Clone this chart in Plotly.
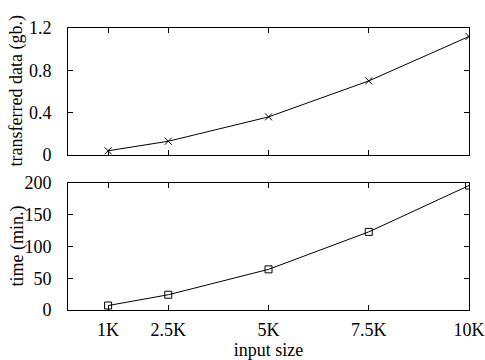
import plotly.graph_objects as go
from plotly.subplots import make_subplots

input_size = [1000, 2500, 5000, 7500, 10000]
tick_labels = ["1K", "2.5K", "5K", "7.5K", "10K"]
transferred_gb = [0.04, 0.13, 0.36, 0.70, 1.12]
time_min = [7, 24, 64, 123, 196]

fig = make_subplots(rows=2, cols=1, shared_xaxes=False, vertical_spacing=0.0992)

fig.add_trace(go.Scatter(x=input_size, y=transferred_gb, mode="lines+markers",
                         line=dict(color="black", width=1),
                         marker=dict(symbol="x-thin", size=7, color="black",
                                     line=dict(color="black", width=1)),
                         showlegend=False), row=1, col=1)
fig.add_trace(go.Scatter(x=input_size, y=time_min, mode="lines+markers",
                         line=dict(color="black", width=1),
                         marker=dict(symbol="square-open", size=7, color="black",
                                     line=dict(width=1)),
                         showlegend=False), row=2, col=1)

FAMILY = "Liberation Serif, Times New Roman, Times, serif"
font = dict(family=FAMILY, size=18, color="black")
title_font = dict(family=FAMILY, size=18, color="black")
axis_common = dict(showgrid=False, zeroline=False, showline=True, linecolor="black",
                   linewidth=1, mirror="allticks", ticks="inside", ticklen=5,
                   tickcolor="black", tickfont=font, automargin=False)

fig.update_xaxes(range=[0, 10000], tickvals=input_size, ticktext=tick_labels,
                 ticklabelstandoff=3, **axis_common)
fig.update_xaxes(showticklabels=False, row=1, col=1)
fig.update_xaxes(title=dict(text="input size", font=title_font, standoff=3), row=2, col=1)

fig.update_yaxes(ticklabelstandoff=12, **axis_common)
fig.update_yaxes(range=[0, 1.2], tickvals=[0, 0.4, 0.8, 1.2], ticktext=["0", "0.4", "0.8", "1.2"],
                 row=1, col=1)
fig.update_yaxes(range=[0, 200], tickvals=[0, 50, 100, 150, 200],
                 row=2, col=1)

plot_w = 485 - 68 - 16
title_x = (17 - 68) / plot_w
fig.add_annotation(text="transferred data (gb.)", xref="paper", yref="paper",
                   x=title_x, y=(0.5496 + 1) / 2, textangle=-90, showarrow=False,
                   xanchor="center", yanchor="middle", font=title_font)
fig.add_annotation(text="time (min.)", xref="paper", yref="paper",
                   x=title_x, y=0.4504 / 2, textangle=-90, showarrow=False,
                   xanchor="center", yanchor="middle", font=title_font)

fig.update_layout(width=485, height=360, margin=dict(l=68, r=16, t=28, b=50),
                  plot_bgcolor="white", paper_bgcolor="white", font=font)
fig.layout.yaxis.domain = [0.5496, 1]
fig.layout.yaxis2.domain = [0, 0.4504]

fig.write_html("out.html", config={"displayModeBar": False},
               post_script="document.body.style.margin='0';")
